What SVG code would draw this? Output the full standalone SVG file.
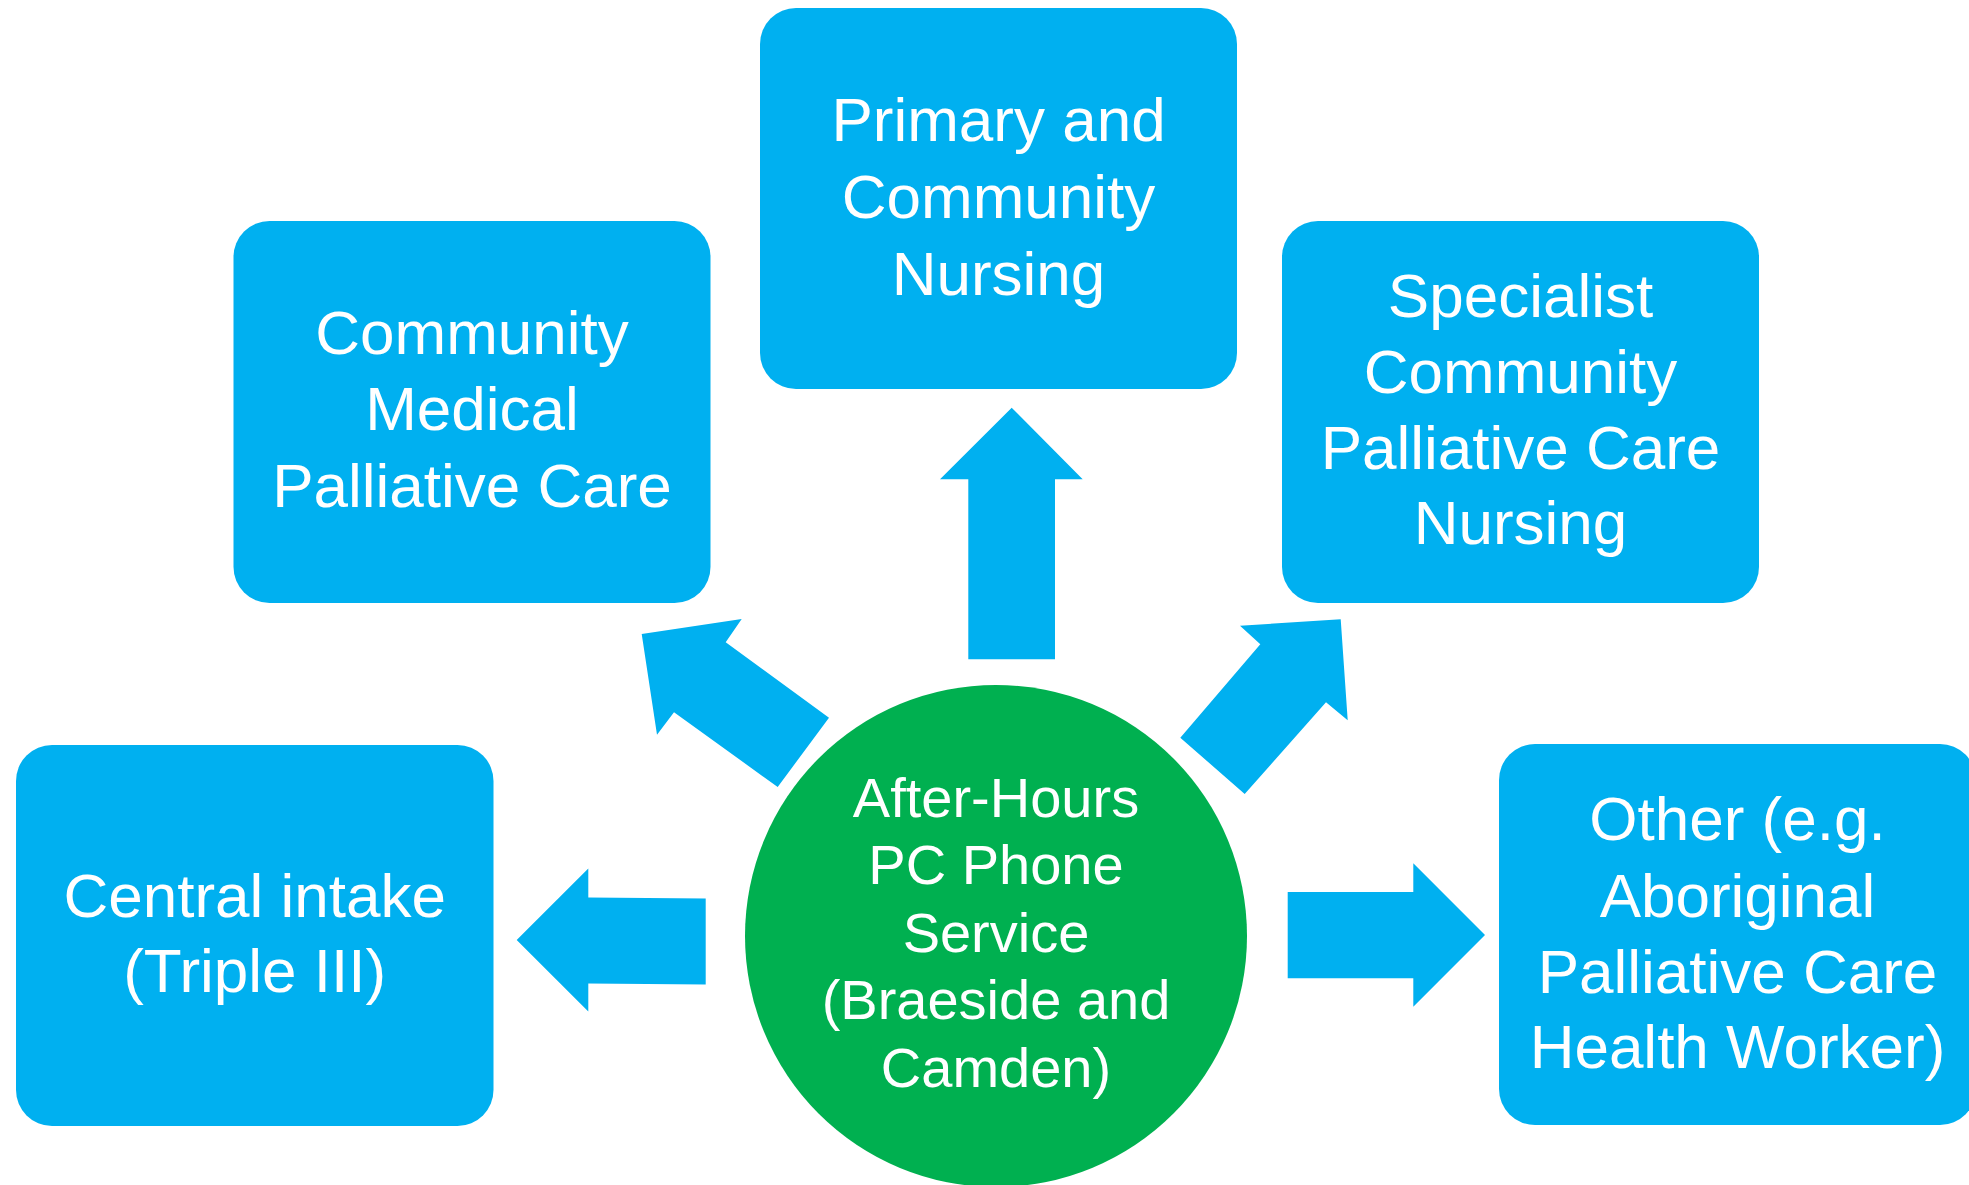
<svg xmlns="http://www.w3.org/2000/svg" width="1969" height="1185" viewBox="0 0 1969 1185">
  <style>
    .box { fill: #00B0F0; }
    .hub { fill: #00B050; }
    .arrow { fill: #00B0F0; }
    .lbl { font-family: "Liberation Sans", Arial, sans-serif; fill: #FFFFFF; text-anchor: middle; }
    .lbl-box { font-size: 62px; }
    .lbl-hub { font-size: 56px; }
  </style>

  <rect width="1969" height="1185" fill="#FFFFFF"/>

  <!-- block arrows radiating from the hub -->
  <g id="connectors">
    <polygon class="arrow" points="1011.7,407.7 1082.7,479.3 1055,479.3 1055,659.3 968.3,659.3 968.3,479.3 940,479.3"/>
    <polygon class="arrow" points="641.7,634 741.7,619 725.7,642.3 829,717.7 777.7,787 674,712.3 657,734.7"/>
    <polygon class="arrow" points="1340.7,619.3 1347.7,720.3 1326,702.3 1244.7,794 1180.3,737.7 1260.3,644.3 1240,625.7"/>
    <polygon class="arrow" points="516.7,940 588.3,868.5 588.3,897.5 705.7,898.5 705.7,984.5 588.3,983.5 588.3,1011.5"/>
    <polygon class="arrow" points="1287.7,892 1413.3,892 1413.3,863.3 1485,935 1413.3,1006.7 1413.3,978.3 1287.7,978.3"/>
  </g>

  <!-- tspans kept on one line so no stray spaces shift the centring -->
  <g id="node-primary-community-nursing">
    <rect class="box" x="760" y="8" width="477" height="381" rx="36" ry="36"/>
    <text class="lbl lbl-box"><tspan x="998.5" y="141.3">Primary and</tspan><tspan x="998.5" y="218">Community</tspan><tspan x="998.5" y="294.5">Nursing</tspan></text>
  </g>

  <g id="node-community-medical">
    <rect class="box" x="233.5" y="221" width="477" height="382" rx="36" ry="36"/>
    <text class="lbl lbl-box"><tspan x="472" y="353.7">Community</tspan><tspan x="472" y="430.3">Medical</tspan><tspan x="472" y="507">Palliative Care</tspan></text>
  </g>

  <g id="node-specialist-nursing">
    <rect class="box" x="1282" y="221" width="477" height="382" rx="36" ry="36"/>
    <text class="lbl lbl-box"><tspan x="1520.5" y="317">Specialist</tspan><tspan x="1520.5" y="392.7">Community</tspan><tspan x="1520.5" y="468.7">Palliative Care</tspan><tspan x="1520.5" y="544.3">Nursing</tspan></text>
  </g>

  <g id="node-central-intake">
    <rect class="box" x="16" y="745" width="477.5" height="381" rx="36" ry="36"/>
    <text class="lbl lbl-box"><tspan x="254.7" y="916.7">Central intake</tspan><tspan x="254.7" y="992.3">(Triple III)</tspan></text>
  </g>

  <g id="node-other">
    <rect class="box" x="1499" y="744" width="477" height="381" rx="36" ry="36"/>
    <text class="lbl lbl-box"><tspan x="1737.5" y="840">Other (e.g.</tspan><tspan x="1737.5" y="916.7">Aboriginal</tspan><tspan x="1737.5" y="992.7">Palliative Care</tspan><tspan x="1737.5" y="1068.3">Health Worker)</tspan></text>
  </g>

  <g id="node-after-hours">
    <circle class="hub" cx="996" cy="936" r="251"/>
    <text class="lbl lbl-hub"><tspan x="996" y="816.7">After-Hours</tspan><tspan x="996" y="884.2">PC Phone</tspan><tspan x="996" y="951.7">Service</tspan><tspan x="996" y="1019.2">(Braeside and</tspan><tspan x="996" y="1086.7">Camden)</tspan></text>
  </g>
</svg>
